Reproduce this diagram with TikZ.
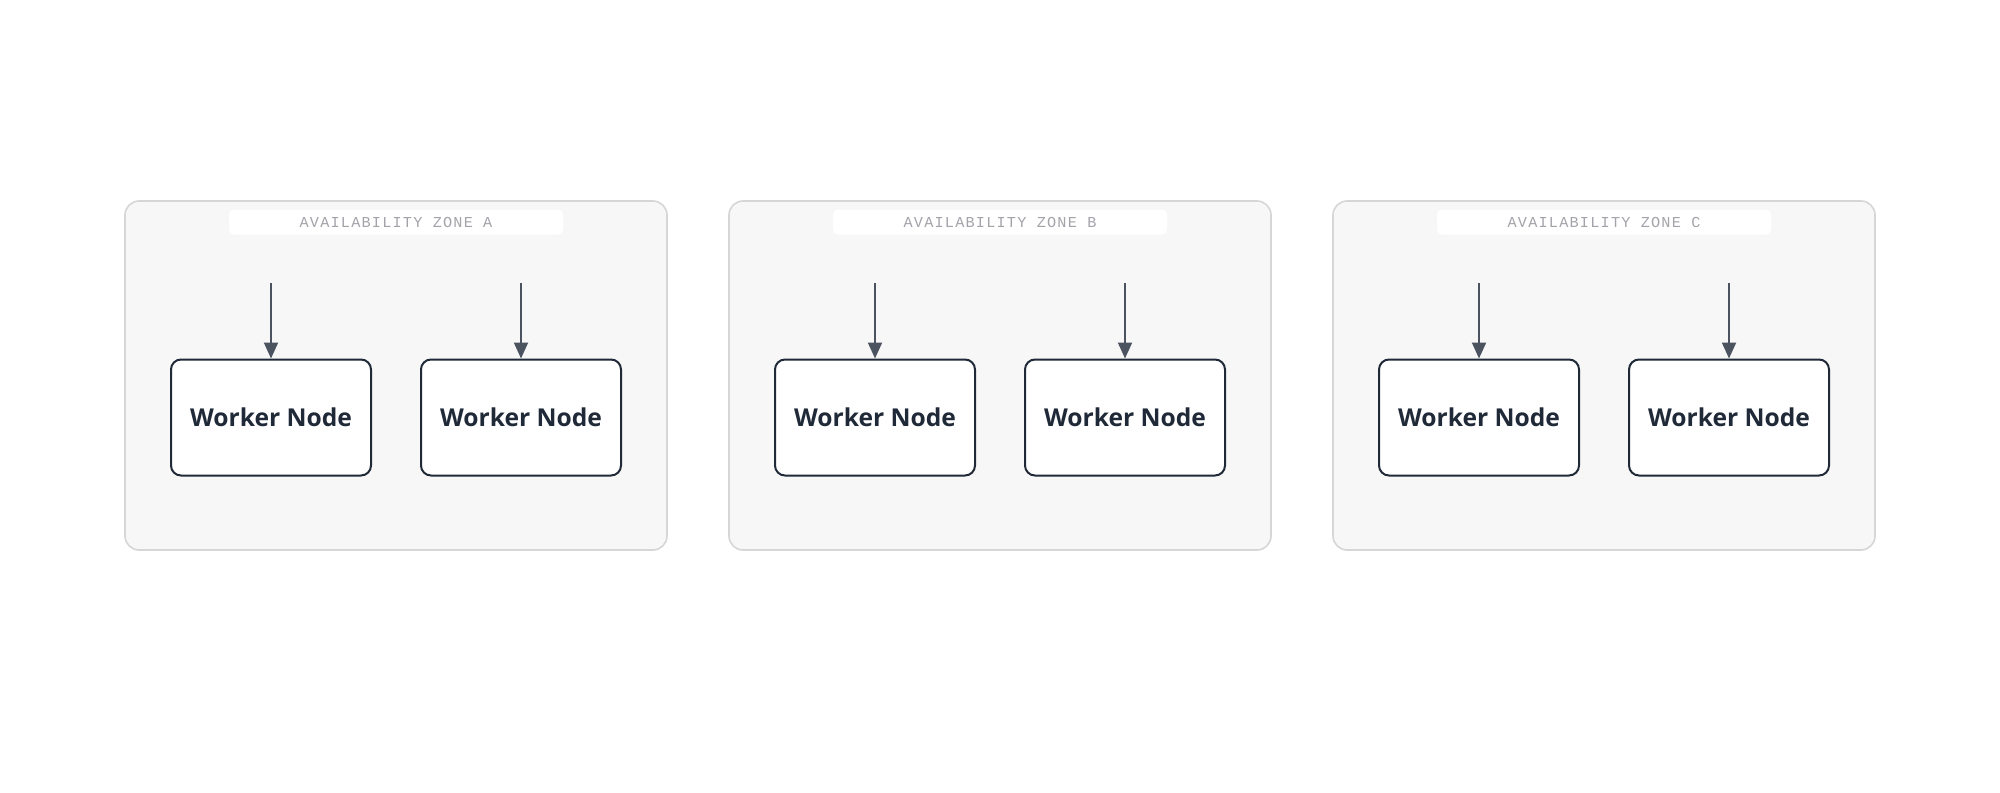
\documentclass[tikz,border=0pt]{standalone}
\usepackage{fontspec}
\setmainfont{Open Sans}
\newfontfamily\zonefont[LetterSpace=8]{Liberation Mono}
\usetikzlibrary{arrows.meta}
\usepackage{xcolor}
\definecolor{zonefill}{HTML}{F7F7F7}
\definecolor{zoneline}{HTML}{D6D6D6}
\definecolor{zonetext}{HTML}{A3A3AA}
\definecolor{nodeline}{HTML}{1F2937}
\definecolor{arrowgray}{HTML}{4B5260}

\begin{document}
\begin{tikzpicture}[x=0.5pt,y=-0.5pt,
  zonebox/.style={draw=zoneline,line width=0.8pt,fill=zonefill,rounded corners=7pt,
    minimum width=271pt,minimum height=174.5pt,inner sep=0pt},
  zonetag/.style={fill=white,rounded corners=2.5pt,minimum width=167pt,minimum height=12.5pt,
    inner sep=0pt,text=zonetext,font=\zonefont\fontsize{7.6}{9}\selectfont},
  workbox/.style={draw=nodeline,line width=1pt,fill=white,rounded corners=5pt,
    minimum width=100pt,minimum height=58pt,inner sep=0pt,text=nodeline,
    font=\bfseries\fontsize{12.3}{15}\selectfont},
  flow/.style={draw=arrowgray,line width=1pt,-{Triangle[width=7pt,length=8pt]}}]
  \useasboundingbox (0,0) rectangle (2000,792);

  \foreach \z/\cx in {A/396,B/1000,C/1604}{
    \node[zonebox] (zone\z) at (\cx,375.5) {};
    \node[zonetag] (tag\z) at (\cx,222) {AVAILABILITY ZONE \z};
    % two worker nodes per zone
    \node[workbox] (work\z1) at (\cx-125,417.5) {Worker Node};
    \node[workbox] (work\z2) at (\cx+125,417.5) {Worker Node};
    \coordinate (in\z1) at (\cx-125,283);
    \coordinate (in\z2) at (\cx+125,283);
    \draw[flow] (in\z1) -- (work\z1.north);
    \draw[flow] (in\z2) -- (work\z2.north);
  }
\end{tikzpicture}
\end{document}
